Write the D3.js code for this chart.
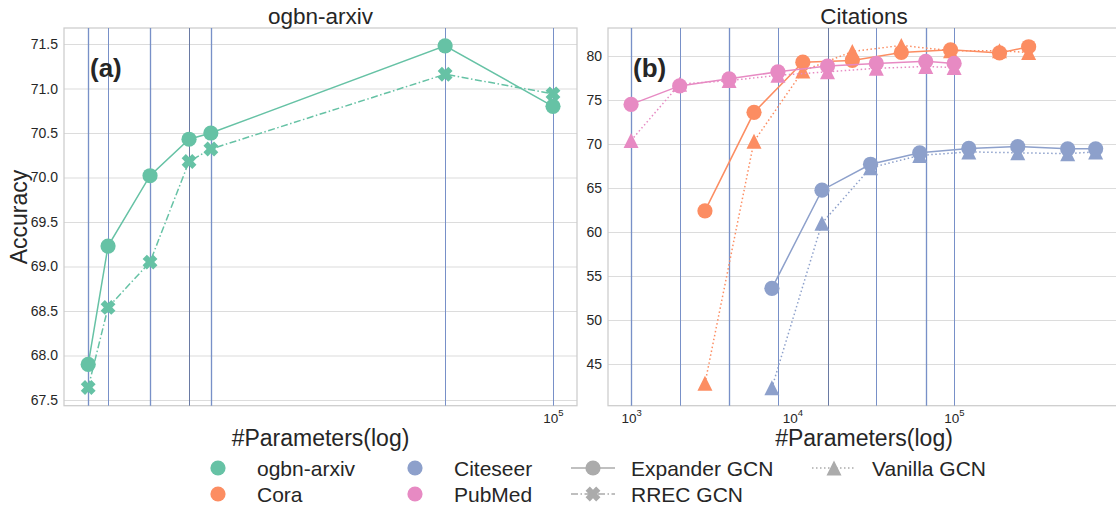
<!DOCTYPE html>
<html>
<head>
<meta charset="utf-8">
<script src="https://cdn.jsdelivr.net/npm/d3@7"></script>
<style>
  html, body { margin: 0; padding: 0; background: #fff; }
  svg { display: block; font-family: "Liberation Sans", Arial, sans-serif; }
</style>
</head>
<body>
<svg id="chart" width="1116" height="513"></svg>
<script>
// ---------------- data ----------------
const arxivX = [16800, 18130, 21300, 24740, 26900, 66100, 100000];
const arxivExpander = [67.90, 69.23, 70.02, 70.43, 70.50, 71.48, 70.80];
const arxivRREC = [67.64, 68.54, 69.05, 70.18, 70.32, 71.16, 70.94];

const pubmedX = [1000, 2000, 4050, 8130, 16500, 33100, 67000, 100500];
const pubmedExpander = [74.5, 76.6, 77.4, 78.2, 78.85, 79.15, 79.4, 79.15];
const pubmedVanilla = [70.4, 76.8, 77.2, 77.8, 78.2, 78.6, 78.8, 78.7];

const coraX = [2870, 5780, 11600, 23500, 47300, 95500, 192000, 291000];
const coraExpander = [62.4, 73.6, 79.3, 79.5, 80.4, 80.7, 80.35, 81.05];
const coraVanilla = [42.8, 70.3, 78.3, 80.5, 81.2, 80.6, 80.6, 80.4];

const citeseerX = [7460, 15240, 30480, 61500, 123900, 249000, 508000, 757000];
const citeseerExpander = [53.6, 64.75, 67.7, 69.0, 69.5, 69.7, 69.45, 69.45];
const citeseerVanilla = [42.3, 61.0, 67.3, 68.7, 69.1, 69.0, 68.9, 69.1];

const leftYTicks = [67.5, 68.0, 68.5, 69.0, 69.5, 70.0, 70.5, 71.0, 71.5];
const rightYTicks = [45, 50, 55, 60, 65, 70, 75, 80];
const leftXTicks = [1e5];
const rightXTicks = [1e3, 1e4, 1e5];

const datasetNames = ["ogbn-arxiv", "Cora", "Citeseer", "PubMed"];
const modelNames = ["Expander GCN", "RREC GCN", "Vanilla GCN"];
const panelTitles = ["ogbn-arxiv", "Citations"];

// ---------------- style ----------------
const COL = { arxiv: "#66c2a5", cora: "#fc8d62", citeseer: "#8da0cb", pubmed: "#e78ac3" };
const TXT = "#262626";
const GRID = "#dcdcdc";
const SPINE = "#cccccc";
const VCOL = "#7890c8";
const FONT = '"Liberation Sans", Arial, sans-serif';

const svg = d3.select("#chart");

const L = { x0: 64, x1: 577, y0: 28, y1: 405.7 };
const R = { x0: 608, x1: 1120, y0: 28, y1: 405.7 };

const xL = d3.scaleLog().domain([15310, 109650]).range([L.x0, L.x1]);
const yL = d3.scaleLinear().domain([67.436, 71.68]).range([L.y1, L.y0]);
const xR = d3.scaleLog().domain([Math.pow(10, 2.857), Math.pow(10, 6.03)]).range([R.x0, R.x1]);
const yR = d3.scaleLinear().domain([40.26, 83.18]).range([R.y1, R.y0]);

// marker paths
function trianglePath(s) {
  const h = s / 2;
  return `M0,${-h}L${-h},${h}L${h},${h}Z`;
}
function xPath(s) {
  const a = s / 2, t = s * 0.2;
  const pts = [[-t, -a], [t, -a], [t, -t], [a, -t], [a, t], [t, t], [t, a], [-t, a], [-t, t], [-a, t], [-a, -t], [-t, -t]];
  const rot = pts.map(([x, y]) => [(x - y) * Math.SQRT1_2, (x + y) * Math.SQRT1_2]);
  return "M" + rot.map(p => p.join(",")).join("L") + "Z";
}

function drawPanel(P, xs, ys, yTicks, xTicks, fmt) {
  const g = svg.append("g");
  g.append("g")
    .attr("transform", `translate(${P.x0},0)`)
    .call(d3.axisLeft(ys).tickValues(yTicks).tickSize(-(Math.min(P.x1, 1116) - P.x0)).tickFormat(""))
    .call(a => a.select(".domain").remove())
    .call(a => a.selectAll("line").attr("stroke", GRID).attr("stroke-width", 1.2));
  g.append("g")
    .attr("transform", `translate(${P.x0},0)`)
    .call(d3.axisLeft(ys).tickValues(yTicks).tickSize(0).tickPadding(6).tickFormat(fmt))
    .call(a => a.select(".domain").remove())
    .call(a => a.selectAll("text").attr("fill", TXT).style("font-size", "14px").style("font-family", FONT));
  const xa = g.append("g")
    .attr("transform", `translate(0,${P.y1})`)
    .call(d3.axisBottom(xs).tickValues(xTicks).tickSize(0).tickPadding(0).tickFormat(""));
  xa.select(".domain").remove();
  xa.selectAll(".tick").each(function (d) {
    const t = d3.select(this).append("text").attr("fill", TXT)
      .attr("y", 17).attr("text-anchor", "middle")
      .style("font-size", "13.5px").style("font-family", FONT);
    t.append("tspan").text("10");
    t.append("tspan").attr("dy", -7).style("font-size", "9.5px").text(Math.round(Math.log10(d)));
  });
  g.append("rect").attr("x", P.x0).attr("y", P.y0)
    .attr("width", P.x1 - P.x0).attr("height", P.y1 - P.y0)
    .attr("fill", "none").attr("stroke", SPINE).attr("stroke-width", 1.25);
  return g;
}

drawPanel(L, xL, yL, leftYTicks, leftXTicks, d3.format(".1f"));
drawPanel(R, xR, yR, rightYTicks, rightXTicks, d3.format("d"));

// vertical reference lines
function vlines(xs, vals, P, strongIdx, haloIdx) {
  vals.forEach((v, i) => {
    const x = Math.round(xs(v)) + 0.5;
    if (haloIdx.includes(i)) {
      svg.append("line").attr("x1", x).attr("x2", x).attr("y1", P.y0).attr("y2", P.y1)
        .attr("stroke", "#4c72b0").attr("stroke-width", 3).attr("opacity", 0.12);
    }
    svg.append("line").attr("x1", x).attr("x2", x).attr("y1", P.y0).attr("y2", P.y1)
      .attr("stroke", strongIdx.includes(i) ? "#6a7aa3" : VCOL)
      .attr("stroke-width", 1);
  });
}
vlines(xL, arxivX, L, [3], [0, 2, 4]);
vlines(xR, pubmedX, R, [4], [0, 2, 6]);

// series
function series(xs, ys, xv, yv, color, dash, marker) {
  const pts = xv.map((x, i) => [xs(x), ys(yv[i])]);
  svg.append("path").attr("d", d3.line()(pts)).attr("fill", "none")
    .attr("stroke", color).attr("stroke-width", 1.5)
    .attr("stroke-dasharray", dash || null);
  pts.forEach(([x, y]) => {
    if (marker === "circle") {
      svg.append("circle").attr("cx", x).attr("cy", y).attr("r", 7.6).attr("fill", color);
    } else if (marker === "tri") {
      svg.append("path").attr("d", trianglePath(15)).attr("transform", `translate(${x},${y})`).attr("fill", color);
    } else {
      svg.append("path").attr("d", xPath(15)).attr("transform", `translate(${x},${y})`).attr("fill", color);
    }
  });
}

const DASHDOT = "7,2.5,1.5,2.5";
const DOT = "1.5,2.5";

series(xL, yL, arxivX, arxivRREC, COL.arxiv, DASHDOT, "x");
series(xL, yL, arxivX, arxivExpander, COL.arxiv, null, "circle");

series(xR, yR, citeseerX, citeseerVanilla, COL.citeseer, DOT, "tri");
series(xR, yR, citeseerX, citeseerExpander, COL.citeseer, null, "circle");
series(xR, yR, coraX, coraVanilla, COL.cora, DOT, "tri");
series(xR, yR, coraX, coraExpander, COL.cora, null, "circle");
series(xR, yR, pubmedX, pubmedVanilla, COL.pubmed, DOT, "tri");
series(xR, yR, pubmedX, pubmedExpander, COL.pubmed, null, "circle");

// texts
function txt(x, y, s, size, opts = {}) {
  return svg.append("text").attr("x", x).attr("y", y).text(s)
    .attr("fill", TXT).style("font-size", size + "px").style("font-family", FONT)
    .attr("text-anchor", opts.anchor || "start")
    .attr("font-weight", opts.bold ? "bold" : null)
    .attr("transform", opts.rotate ? `rotate(-90,${x},${y})` : null);
}
txt((L.x0 + L.x1) / 2, 24, panelTitles[0], 22.5, { anchor: "middle" });
txt((R.x0 + R.x1) / 2, 24, panelTitles[1], 22.5, { anchor: "middle" });
txt(90, 77, "(a)", 26, { bold: true });
txt(633, 77, "(b)", 26, { bold: true });
txt(27, 217, "Accuracy", 23, { anchor: "middle", rotate: true });
txt((L.x0 + L.x1) / 2, 446, "#Parameters(log)", 23, { anchor: "middle" });
txt((R.x0 + R.x1) / 2, 446, "#Parameters(log)", 23, { anchor: "middle" });

// legend
const LG = "#ababab";
const legendItems = [
  { kind: "dot", color: COL.arxiv, label: datasetNames[0], x: 218, y: 468 },
  { kind: "dot", color: COL.cora, label: datasetNames[1], x: 218, y: 494 },
  { kind: "dot", color: COL.citeseer, label: datasetNames[2], x: 415, y: 468 },
  { kind: "dot", color: COL.pubmed, label: datasetNames[3], x: 415, y: 494 },
  { kind: "circle", dash: null, label: modelNames[0], x: 593, y: 468 },
  { kind: "x", dash: DASHDOT, label: modelNames[1], x: 593, y: 494 },
  { kind: "tri", dash: DOT, label: modelNames[2], x: 834, y: 468 },
];
legendItems.forEach(it => {
  if (it.kind === "dot") {
    svg.append("circle").attr("cx", it.x).attr("cy", it.y).attr("r", 7.6).attr("fill", it.color);
    txt(it.x + 39, it.y + 7.5, it.label, 21);
  } else {
    svg.append("line").attr("x1", it.x - 22).attr("x2", it.x + 22).attr("y1", it.y).attr("y2", it.y)
      .attr("stroke", LG).attr("stroke-width", 1.5).attr("stroke-dasharray", it.dash);
    if (it.kind === "circle") svg.append("circle").attr("cx", it.x).attr("cy", it.y).attr("r", 7.6).attr("fill", LG);
    else if (it.kind === "tri") svg.append("path").attr("d", trianglePath(15)).attr("transform", `translate(${it.x},${it.y})`).attr("fill", LG);
    else svg.append("path").attr("d", xPath(15)).attr("transform", `translate(${it.x},${it.y})`).attr("fill", LG);
    txt(it.x + 38, it.y + 7.5, it.label, 21);
  }
});
</script>
</body>
</html>
